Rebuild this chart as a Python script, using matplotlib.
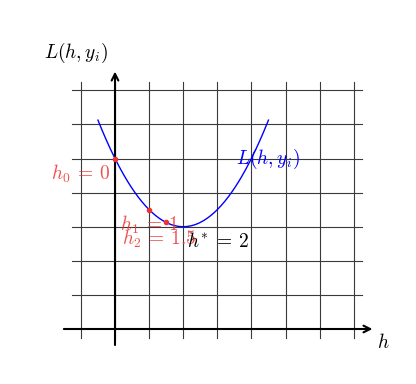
import numpy as np
import matplotlib
matplotlib.use("Agg")
import matplotlib.pyplot as plt

plt.rcParams['mathtext.fontset'] = 'cm'
plt.rcParams['font.family'] = ['DejaVu Serif']

# loss curve L(h) = 3 + 0.5 (h - 2)^2, drawn for h in [-0.5, 4.5]
h_lo, h_hi = -0.5, 4.5
h_min, L_min, curv = 2.0, 3.0, 0.5

# gradient descent iterates
iter_h = [0.0, 1.0, 1.5]
iter_labels = [r'$h_0\:=\:0$', r'$h_1\:=\:1$', r'$h_2\:=\:1.5$']
iter_offsets = [(-1.0, -0.45), (0.0, -0.45), (-0.2, -0.47)]

def loss(h):
    return L_min + curv * (np.asarray(h) - h_min) ** 2

FS = 14

fig = plt.figure(figsize=(4.16, 3.84), dpi=100)
ax = fig.add_axes((0, 0, 1, 1))
ax.set_xlim(-115 / 34.1, (416 - 115) / 34.1)
ax.set_ylim(-(384 - 329) / 34.1, 329 / 34.1)
ax.axis('off')

# grid
for gx in range(-1, 8):
    ax.plot([gx, gx], [-0.25, 7.25], color='#3a3a3a', lw=0.8, zorder=1)
for gy in range(1, 8):
    ax.plot([-1.25, 7.25], [gy, gy], color='#3a3a3a', lw=0.8, zorder=1)

# axes with arrows
ax.annotate('', xy=(7.55, 0), xytext=(-1.5, 0),
            arrowprops=dict(arrowstyle='->', lw=1.5, color='black',
                            shrinkA=0, shrinkB=0, mutation_scale=12), zorder=3)
ax.annotate('', xy=(0, 7.55), xytext=(0, -0.47),
            arrowprops=dict(arrowstyle='->', lw=1.5, color='black',
                            shrinkA=0, shrinkB=0, mutation_scale=12), zorder=3)
ax.text(-1.15, 8.1, r'$L(h, y_i)$', fontsize=FS, ha='center', va='center')
ax.text(7.86, -0.41, r'$h$', fontsize=FS, ha='center', va='center')

# curve
hs = np.linspace(h_lo, h_hi, 200)
ax.plot(hs, loss(hs), color='blue', lw=1.0, zorder=4)
ax.text(4.5, 5.0, r'$L(h, y_i)$', fontsize=FS, color='blue', ha='center', va='center', zorder=5)

# iterates
ax.scatter(iter_h, loss(iter_h), s=9, color='#ee3333', zorder=5)
for hv, lab, (dx, dy) in zip(iter_h, iter_labels, iter_offsets):
    ax.text(hv + dx, loss(hv) + dy, lab, fontsize=FS, color='#ee3333', alpha=0.85,
            ha='center', va='center', zorder=6)

ax.text(3.03, 2.56, r'$h^{*}\:=\:2$', fontsize=FS, color='black', ha='center', va='center', zorder=6)

fig.savefig('out.png', dpi=100)
